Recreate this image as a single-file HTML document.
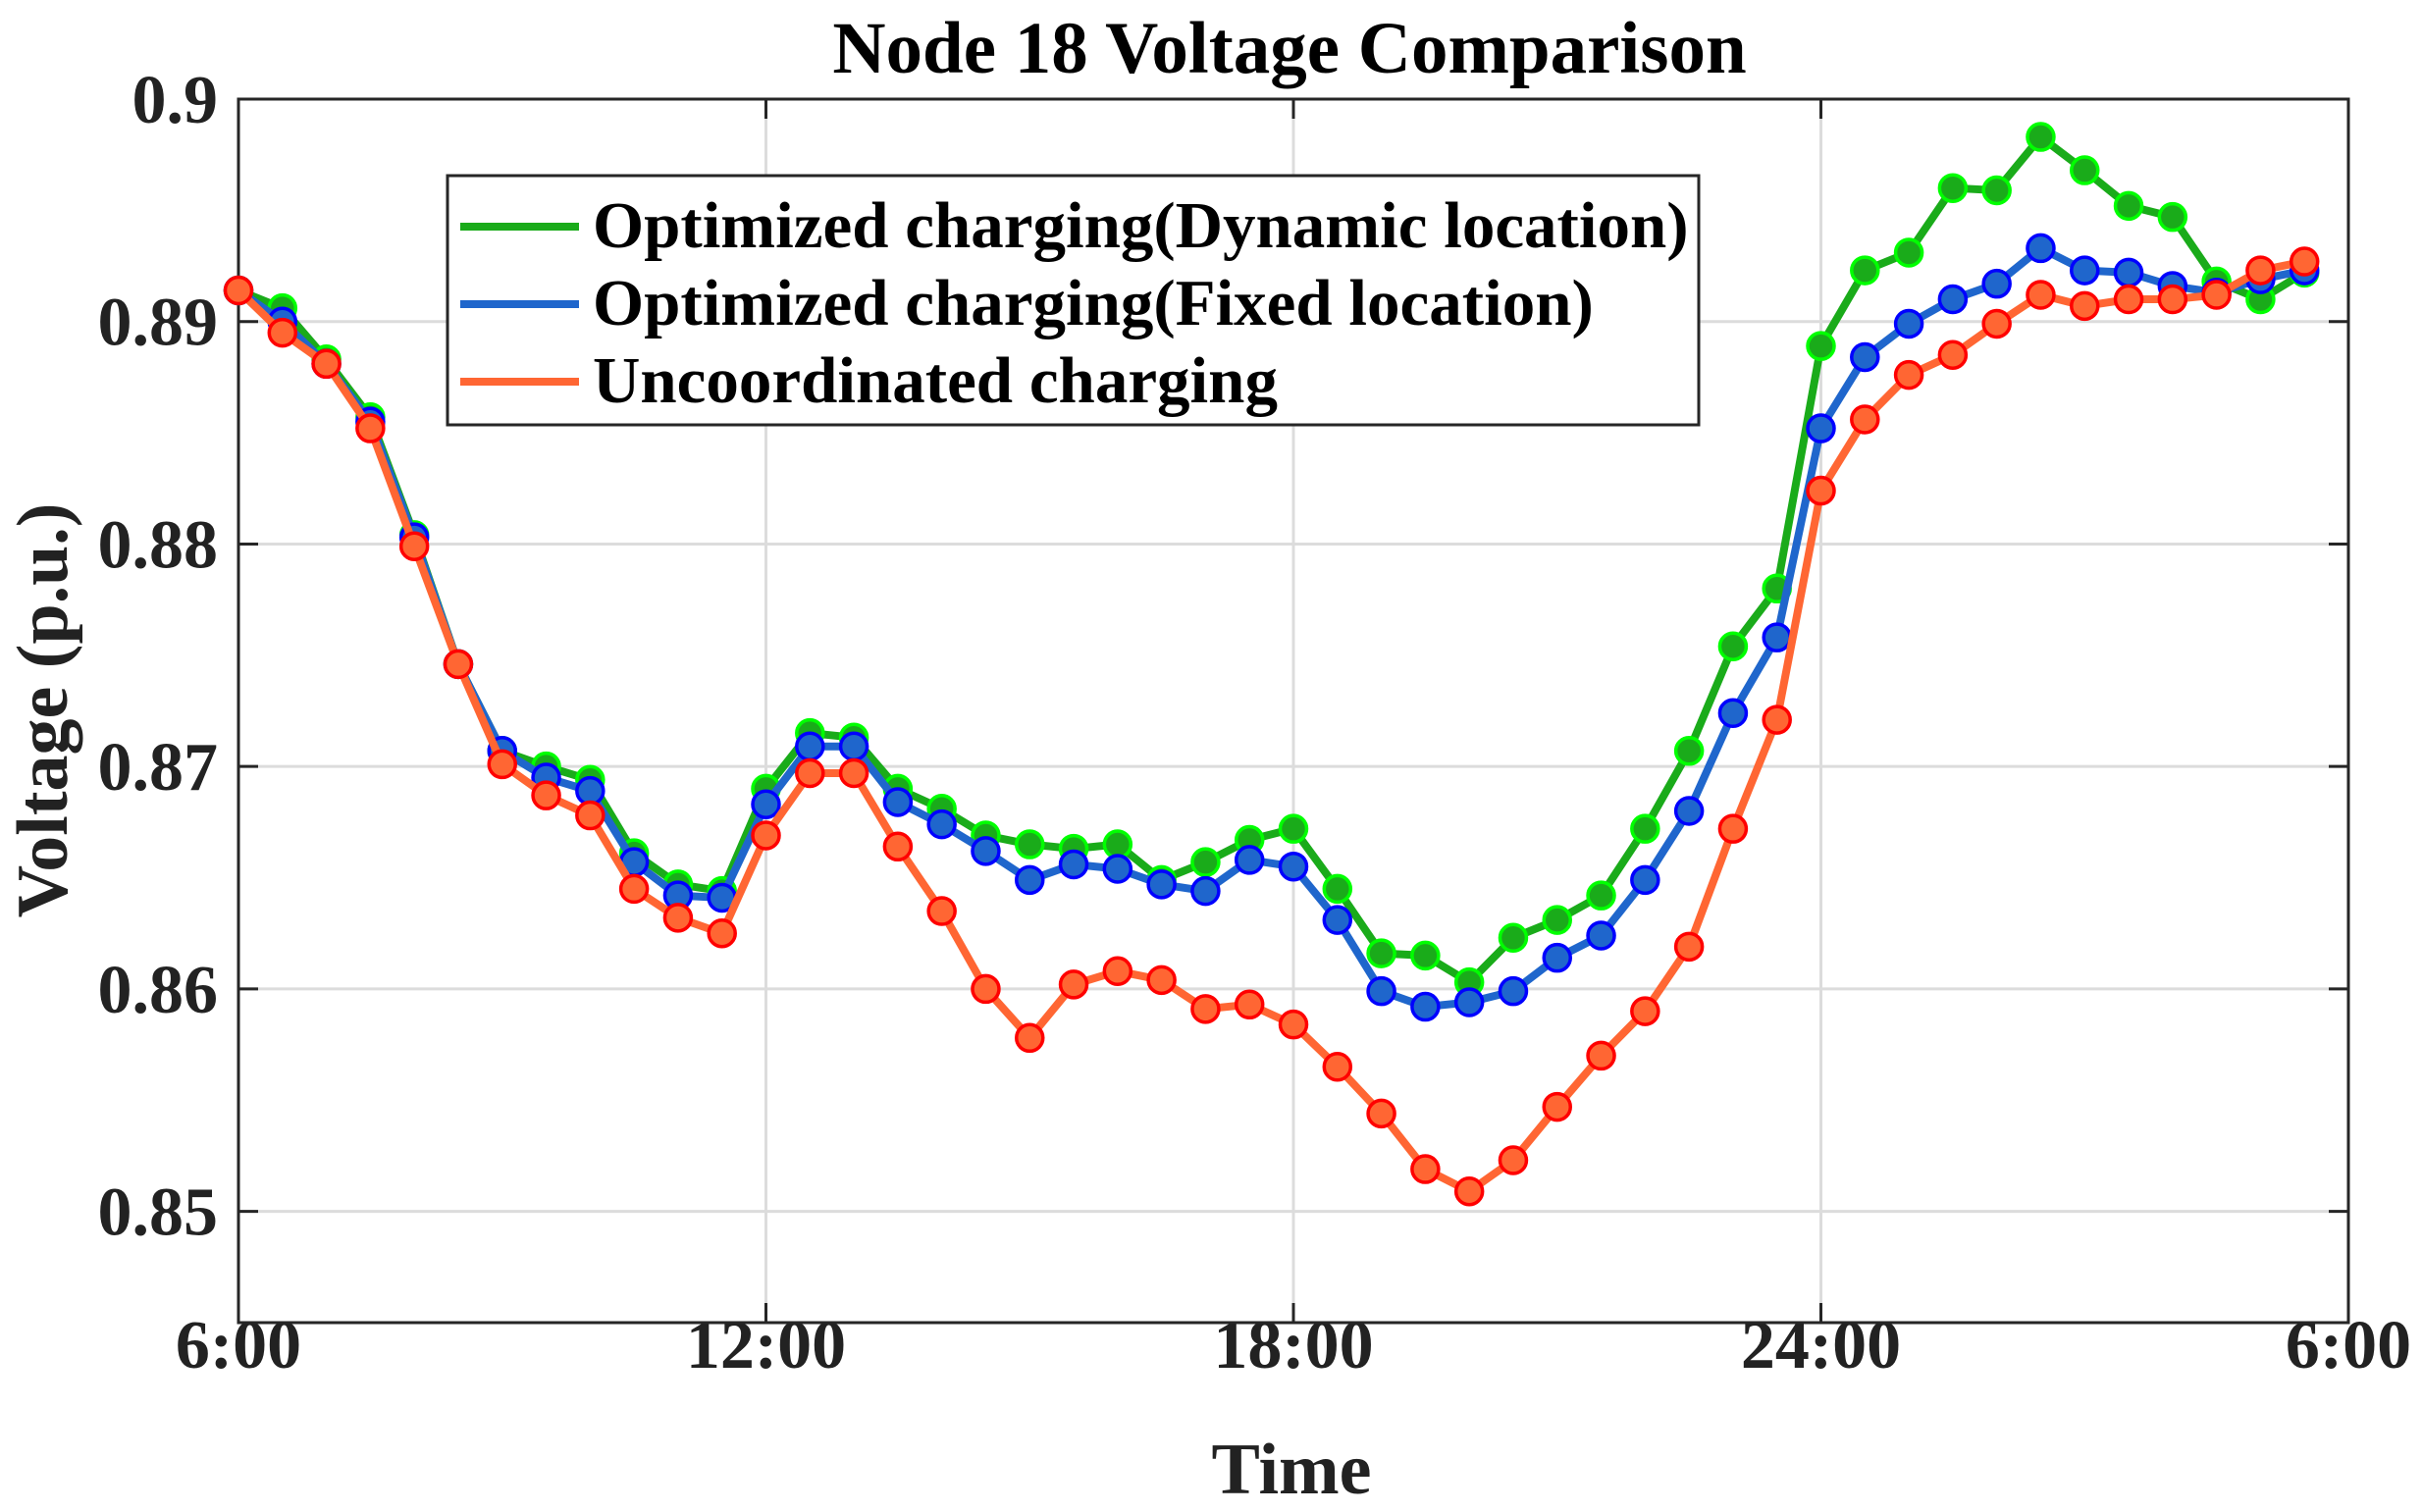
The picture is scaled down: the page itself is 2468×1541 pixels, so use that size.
<!DOCTYPE html>
<html><head><meta charset="utf-8"><style>
html,body{margin:0;padding:0;background:#fff;}
svg{display:block;font-family:"Liberation Serif",serif;font-weight:bold;}
</style></head><body>
<svg id="chart" width="2468" height="1541" viewBox="0 0 2468 1541">
<rect width="2468" height="1541" fill="#fff"/>
<text x="1314" y="74" font-size="75" text-anchor="middle" fill="#000">Node 18 Voltage Comparison</text>
<g id="grid"></g><g id="axes"></g><g id="series"></g>
<text x="1316" y="1522" font-size="74" text-anchor="middle" fill="#222">Time</text>
<text transform="translate(68,724) rotate(-90)" font-size="74" text-anchor="middle" fill="#222">Voltage (p.u.)</text>
<g>
<rect x="456" y="179" width="1275" height="254" fill="#fff" stroke="#262626" stroke-width="3"/>
<line x1="469" y1="231" x2="590" y2="231" stroke="#1aab1a" stroke-width="8"/>
<text x="604" y="252" font-size="67" fill="#000">Optimized charging(Dynamic location)</text>
<line x1="469" y1="310" x2="590" y2="310" stroke="#1f66cc" stroke-width="8"/>
<text x="604" y="331" font-size="67" fill="#000">Optimized charging(Fixed location)</text>
<line x1="469" y1="389" x2="590" y2="389" stroke="#ff6633" stroke-width="8"/>
<text x="604" y="410" font-size="67" fill="#000">Uncoordinated charging</text>
</g>
</svg>
<script>
const xTickHours=[6,12,18,24,30];
const xTickLabels=["6:00","12:00","18:00","24:00","6:00"];
const yTicks=[0.85,0.86,0.87,0.88,0.89,0.9];
const yTickLabels=["0.85","0.86","0.87","0.88","0.89","0.9"];
const startHour=6, stepHour=0.5;
const dynamicV=[0.8914,0.8906,0.8883,0.8857,0.8804,0.8746,0.8707,0.8700,0.8694,0.8661,0.8647,0.8644,0.8690,0.8715,0.8713,0.8690,0.8681,0.8669,0.8665,0.8663,0.8665,0.8649,0.8657,0.8667,0.8672,0.8645,0.8616,0.8615,0.8603,0.8623,0.8631,0.8642,0.8672,0.8707,0.8754,0.8780,0.8889,0.8923,0.8931,0.8960,0.8959,0.8983,0.8968,0.8952,0.8947,0.8918,0.8910,0.8922];
const fixedV=[0.8914,0.8900,0.8881,0.8855,0.8803,0.8746,0.8707,0.8695,0.8689,0.8657,0.8642,0.8641,0.8683,0.8709,0.8709,0.8684,0.8674,0.8662,0.8649,0.8656,0.8654,0.8647,0.8644,0.8658,0.8655,0.8631,0.8599,0.8592,0.8594,0.8599,0.8614,0.8624,0.8649,0.8680,0.8724,0.8758,0.8852,0.8884,0.8899,0.8910,0.8917,0.8933,0.8923,0.8922,0.8916,0.8913,0.8919,0.8923];
const uncoordV=[0.8914,0.8895,0.8881,0.8852,0.8799,0.8746,0.8701,0.8687,0.8678,0.8645,0.8632,0.8625,0.8669,0.8697,0.8697,0.8664,0.8635,0.8600,0.8578,0.8602,0.8608,0.8604,0.8591,0.8593,0.8584,0.8565,0.8544,0.8519,0.8509,0.8523,0.8547,0.8570,0.8590,0.8619,0.8672,0.8721,0.8824,0.8856,0.8876,0.8885,0.8899,0.8912,0.8907,0.8910,0.8910,0.8912,0.8923,0.8927];

const L=243,R=2393,T=101,B=1348,X0=6,X1=30,Y0=0.845,Y1=0.9;
const xs=h=>L+(h-X0)/(X1-X0)*(R-L);
const ys=v=>B-(v-Y0)/(Y1-Y0)*(B-T);
const NS="http://www.w3.org/2000/svg";
function mk(tag,attrs,parent){const e=document.createElementNS(NS,tag);for(const k in attrs)e.setAttribute(k,attrs[k]);parent.appendChild(e);return e;}
const grid=document.getElementById('grid'),axes=document.getElementById('axes'),ser=document.getElementById('series');
xTickHours.forEach((h,i)=>{
  const x=xs(h);
  if(i>0&&i<xTickHours.length-1){const g=mk('line',{x1:x,y1:T,x2:x,y2:B,stroke:'#dcdcdc','stroke-width':3},grid);
  
  }
  mk('line',{x1:x,y1:B,x2:x,y2:B-20,stroke:'#262626','stroke-width':3},axes);
  mk('line',{x1:x,y1:T,x2:x,y2:T+20,stroke:'#262626','stroke-width':3},axes);
  const t=mk('text',{x:x,y:1394,'font-size':70,'text-anchor':'middle',fill:'#222'},axes);
  t.textContent=xTickLabels[i];
  
  
});
yTicks.forEach((v,i)=>{
  const y=ys(v);
  if(v<Y1){const g=mk('line',{x1:L,y1:y,x2:R,y2:y,stroke:'#dcdcdc','stroke-width':3},grid);
  
  }
  mk('line',{x1:L,y1:y,x2:L+20,y2:y,stroke:'#262626','stroke-width':3},axes);
  mk('line',{x1:R,y1:y,x2:R-20,y2:y,stroke:'#262626','stroke-width':3},axes);
  const t=mk('text',{x:222,y:y+24,'font-size':70,'text-anchor':'end',fill:'#222'},axes);
  t.textContent=yTickLabels[i];
  
  
});
const frame=mk('rect',{x:L,y:T,width:R-L,height:B-T,fill:'none',stroke:'#262626','stroke-width':3},axes);


function drawSeries(vals,line,face,edge,name){
  const g=mk('g',{},ser);
  
  
  const pts=vals.map((v,i)=>xs(startHour+i*stepHour)+','+ys(v)).join(' ');
  mk('polyline',{points:pts,fill:'none',stroke:line,'stroke-width':8,'stroke-linejoin':'round'},g);
  vals.forEach((v,i)=>{
    const c=mk('circle',{cx:xs(startHour+i*stepHour),cy:ys(v),r:13.5,fill:face,stroke:edge,'stroke-width':3.5},g);
    
    
  });
}
drawSeries(dynamicV,'#1aab1a','#1aab1a','#00ff00','series-dynamic');
drawSeries(fixedV,'#1f66cc','#1f66cc','#0000ff','series-fixed');
drawSeries(uncoordV,'#ff6633','#ff6633','#ff0000','series-uncoordinated');
</script>
</body></html>
